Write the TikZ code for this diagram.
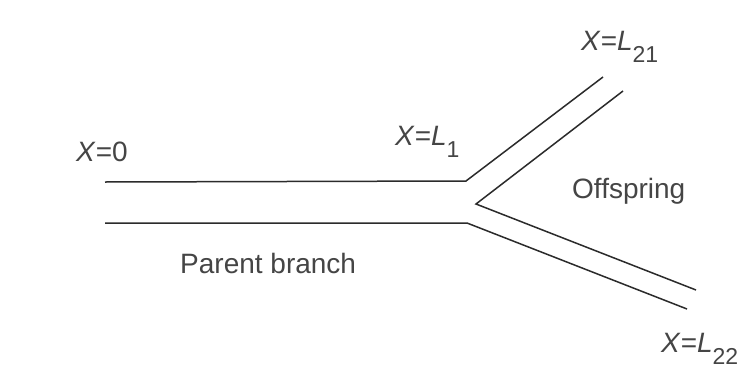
\documentclass[tikz,border=0pt]{standalone}
\usepackage{fontspec}
\setmainfont{Liberation Sans}
\definecolor{inkline}{HTML}{2B2B2B}
\definecolor{inktext}{HTML}{454545}
\newcommand{\lbl}[2]{\textit{X}=\textit{#1}\raisebox{-0.45em}{\fontsize{23}{23}\selectfont #2}}
\begin{document}
\begin{tikzpicture}[x=1pt,y=-1pt,
  wall/.style={draw=inkline, line width=1.5pt, line join=miter},
  txt/.style={inner sep=0pt, anchor=base west, text=inktext, font=\fontsize{28}{31}\selectfont}]
\useasboundingbox[fill=white] (0,0) rectangle (745,370);
% coordinates
\coordinate (ts) at (105,182);
\coordinate (tc) at (466,181);
\coordinate (te) at (603,77);
\coordinate (bs) at (105,223);
\coordinate (bc) at (467,223);
\coordinate (be) at (687,309);
\coordinate (ie1) at (623,91);
\coordinate (iv) at (476,204);
\coordinate (ie2) at (696,290);
% walls
\draw[wall] (ts) -- (tc) -- (te);
\draw[wall] (bs) -- (bc) -- (be);
\draw[wall] (ie1) -- (iv) -- (ie2);
% labels
\node[txt] (x0) at (76,161) {\textit{X}=0};
\node[txt] (xl1) at (395,145) {\lbl{L}{1}};
\node[txt] (xl21) at (581,50) {\lbl{L}{21}};
\node[txt] (xl22) at (661,352) {\lbl{L}{22}};
\node[txt] (off) at (572,198) {Offspring};
\node[txt] (par) at (180,273) {Parent branch};
\end{tikzpicture}
\end{document}
